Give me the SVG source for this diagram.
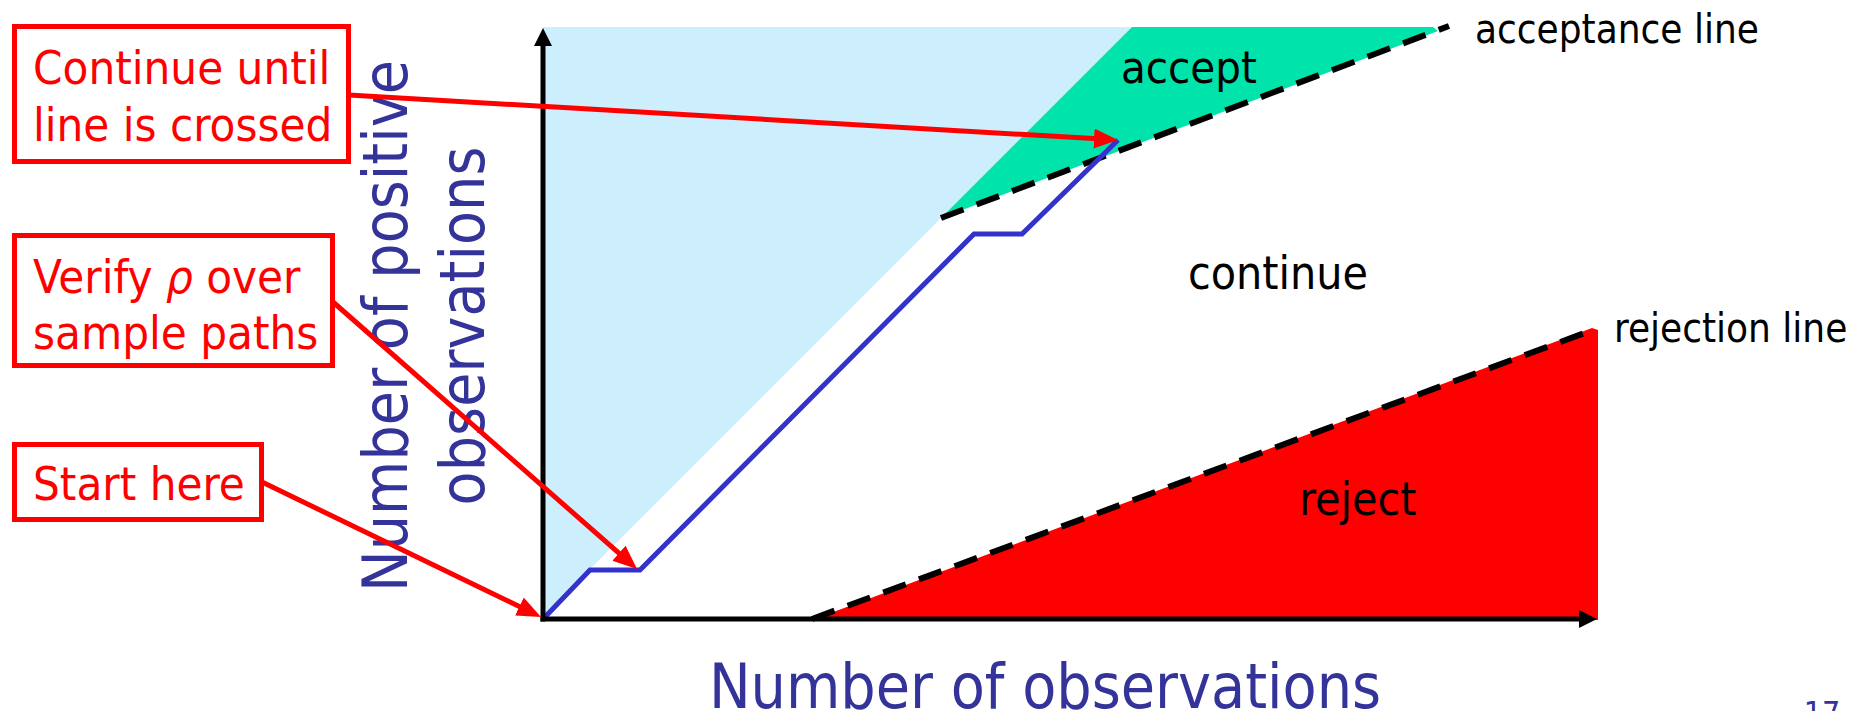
<svg xmlns="http://www.w3.org/2000/svg" width="1868" height="711" viewBox="0 0 1868 711">
<style>
text { font-family: "DejaVu Sans Condensed", "DejaVu Sans", sans-serif; font-stretch: condensed; }
.box { fill: #ffffff; stroke: #ff0000; stroke-width: 5; }
.boxtxt { fill: #ff0000; font-size: 47px; }
.lbl { fill: #000000; }
.axlbl { fill: #333399; font-size: 62px; }
.dash { fill: none; stroke: #000000; stroke-width: 6; stroke-dasharray: 24 14; }
.red { fill: none; stroke: #ff0000; stroke-width: 5; marker-end: url(#redHead); }
.axis { fill: none; stroke: #000000; stroke-width: 5; marker-end: url(#axHead); }
</style>
<defs>
<marker id="redHead" markerUnits="userSpaceOnUse" markerWidth="24" markerHeight="20" refX="12" refY="10" orient="auto">
<path d="M0,0 L24,10 L0,20 z" fill="#ff0000"/>
</marker>
<marker id="axHead" markerUnits="userSpaceOnUse" markerWidth="18" markerHeight="18" refX="9" refY="9" orient="auto">
<path d="M0,0 L18,9 L0,18 z" fill="#000000"/>
</marker>
</defs>
<rect width="1868" height="711" fill="#ffffff"/>
<g id="regions">
<polygon id="region-blue" points="543,27 1132,27 590,569 543,616" fill="#cceefd"/>
<polygon id="region-accept" points="1132,27 1433,27 1438,31 941,218" fill="#00e3aa"/>
<polygon id="region-reject" points="812,620 1592,328 1598,330 1598,620" fill="#ff0000"/>
</g>
<g id="boundaries">
<line class="dash" x1="941" y1="218" x2="1449" y2="26"/>
<line class="dash" x1="812" y1="619" x2="1590" y2="331"/>
</g>
<g id="sample-path">
<polyline points="545,617 590,570 640,570 974,234 1022,234 1118,140" fill="none" stroke="#3333cc" stroke-width="5"/>
</g>
<g id="axes">
<line class="axis" x1="543" y1="621.5" x2="543" y2="37"/>
<line class="axis" x1="540.5" y1="619" x2="1588" y2="619"/>
</g>
<g id="region-labels">
<text class="lbl" x="1121" y="83" font-size="45">accept</text>
<text class="lbl" x="1188" y="289" font-size="46">continue</text>
<text class="lbl" x="1299" y="515" font-size="46">reject</text>
<text class="lbl" x="1475" y="43" font-size="40">acceptance line</text>
<text class="lbl" x="1614" y="342" font-size="40">rejection line</text>
</g>
<g id="axis-labels">
<text class="axlbl" text-anchor="middle" transform="translate(407,326) rotate(-90)">Number of positive</text>
<text class="axlbl" text-anchor="middle" transform="translate(484,326) rotate(-90)">observations</text>
<text class="axlbl" text-anchor="middle" x="1045" y="708">Number of observations</text>
<text x="1822" y="724" text-anchor="middle" font-size="32" fill="#333399">17</text>
</g>
<g id="node-continue">
<rect class="box" x="14.5" y="26.5" width="334" height="135"/>
<text class="boxtxt" x="33" y="84">Continue until</text>
<text class="boxtxt" x="33" y="141">line is crossed</text>
</g>
<g id="node-verify">
<rect class="box" x="14.5" y="235.5" width="318" height="130"/>
<text class="boxtxt" x="33" y="293">Verify <tspan font-style="italic">ρ</tspan> over</text>
<text class="boxtxt" x="33" y="349">sample paths</text>
</g>
<g id="node-start">
<rect class="box" x="14.5" y="444.5" width="247" height="75"/>
<text class="boxtxt" x="33" y="500">Start here</text>
</g>
<g id="connectors">
<line class="red" x1="349" y1="95" x2="1106" y2="139.3"/>
<line class="red" x1="333" y1="302" x2="628" y2="561.1"/>
<line class="red" x1="262" y1="482" x2="530.2" y2="611.8"/>
</g>
</svg>
